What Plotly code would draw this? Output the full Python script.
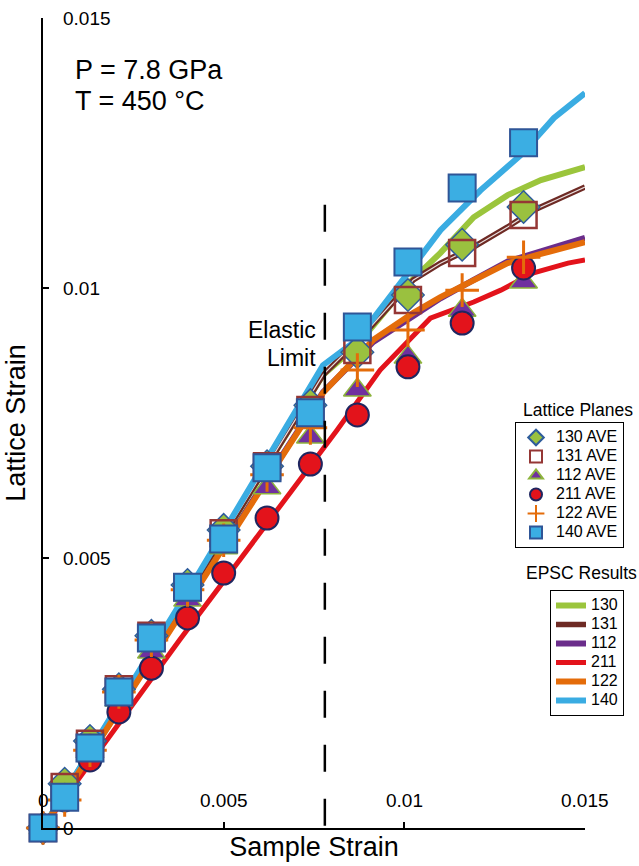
import plotly.graph_objects as go

# ---------------- data ----------------
sample_strain = [0, 0.0006, 0.0013, 0.0021, 0.003, 0.004, 0.005, 0.0062, 0.0074, 0.0087, 0.0101, 0.0116, 0.0133]

ave_130 = [0, 0.00082, 0.00161, 0.00257, 0.00356, 0.0045, 0.00552, 0.0067, 0.00783, 0.00881, 0.00987, 0.0108, 0.0115]
ave_131 = [0, 0.00076, 0.00156, 0.00257, 0.00356, 0.00446, 0.00546, 0.0067, 0.00774, 0.00885, 0.00978, 0.01065, 0.01135]
ave_112 = [0, 0.00061, 0.00141, 0.00237, 0.00326, 0.00422, 0.00519, 0.0063, 0.00724, 0.00811, 0.00872, 0.00959, 0.01011]
ave_211 = [0, 0.00052, 0.00126, 0.00215, 0.00296, 0.00389, 0.00472, 0.00574, 0.00674, 0.00765, 0.00854, 0.00935, 0.01037]
ave_122 = [0, 0.00052, 0.00144, 0.00252, 0.00348, 0.00441, 0.00533, 0.00654, 0.00741, 0.00848, 0.00922, 0.00996, 0.01057]
ave_140 = [0, 0.00057, 0.00148, 0.00252, 0.00352, 0.00446, 0.00535, 0.00667, 0.00769, 0.00928, 0.01048, 0.01185, 0.01269]

epsc_130_x = [0, 0.00433, 0.00775, 0.00869, 0.01008, 0.0110, 0.01192, 0.01286, 0.01378, 0.015]
epsc_130_y = [0, 0.00469, 0.00839, 0.00894, 0.01006, 0.01065, 0.01131, 0.01172, 0.0120, 0.01224]
epsc_131_x = [0, 0.00433, 0.00775, 0.00886, 0.01025, 0.0110, 0.01192, 0.01286, 0.01358, 0.015]
epsc_131_y = [0, 0.00469, 0.00839, 0.00913, 0.01015, 0.01046, 0.01076, 0.01113, 0.01144, 0.01187]
epsc_112_x = [0, 0.00433, 0.00775, 0.00914, 0.01025, 0.0110, 0.01192, 0.01286, 0.01378, 0.015]
epsc_112_y = [0, 0.00454, 0.00807, 0.0090, 0.00948, 0.00981, 0.01015, 0.01049, 0.01068, 0.01093]
epsc_211_x = [0, 0.00378, 0.00683, 0.00814, 0.00933, 0.01072, 0.01192, 0.01267, 0.01358, 0.01453, 0.015]
epsc_211_y = [0, 0.00348, 0.0062, 0.00737, 0.00848, 0.00944, 0.00974, 0.00996, 0.01028, 0.01046, 0.01052]
epsc_122_x = [0, 0.00433, 0.00775, 0.00914, 0.01025, 0.0110, 0.01192, 0.01286, 0.01378, 0.015]
epsc_122_y = [0, 0.0045, 0.00806, 0.00904, 0.00954, 0.00983, 0.01015, 0.01046, 0.01063, 0.01085]
epsc_140_x = [0, 0.00433, 0.00775, 0.00869, 0.00989, 0.0110, 0.01211, 0.01322, 0.01414, 0.015]
epsc_140_y = [0, 0.00474, 0.00857, 0.00904, 0.01009, 0.01107, 0.01181, 0.01246, 0.01315, 0.01361]

elastic_limit = 0.0078
elastic_top = 0.01154

x_ticks = [0, 0.005, 0.01, 0.015]
x_tick_labels = ["0", "0.005", "0.01", "0.015"]
y_ticks = [0, 0.005, 0.01, 0.015]
y_tick_labels = ["0", "0.005", "0.01", "0.015"]

FONT = "Liberation Sans, Arial, sans-serif"
W, H = 639, 866


def leg(t):
    return "<span style='font-size:16px'>" + t + "</span>"


fig = go.Figure()

# ---------------- EPSC lines ----------------
line_specs = [
    ("112", epsc_112_x, epsc_112_y, "#6B2D8B", 6, 3),
    ("130", epsc_130_x, epsc_130_y, "#9BC53C", 6, 1),
    ("131", epsc_131_x, epsc_131_y, "#6E2A24", 5.5, 2),
    ("140", epsc_140_x, epsc_140_y, "#3AACE2", 6, 6),
    ("211", epsc_211_x, epsc_211_y, "#E3131B", 5, 4),
    ("122", epsc_122_x, epsc_122_y, "#E46C0A", 6, 5),
]
for name, xs, ys, col, w, rank in line_specs:
    fig.add_trace(go.Scatter(
        x=xs, y=ys, mode="lines", name=leg(name), legend="legend2", legendrank=rank,
        line=dict(color=col, width=w), cliponaxis=False, hoverinfo="skip"))
    if name == "131":
        fig.add_trace(go.Scatter(
            x=xs, y=ys, mode="lines", showlegend=False,
            line=dict(color="rgba(255,255,255,0.85)", width=1.2), cliponaxis=False, hoverinfo="skip"))

# ---------------- measured markers ----------------
marker_specs = [
    ("130 AVE", ave_130, dict(symbol="diamond", size=25, color="#9AC13F", line=dict(color="#2E5C9C", width=1.5)), 1),
    ("131 AVE", ave_131, dict(symbol="square-open", size=26, color="#953735", line=dict(color="#953735", width=2.5)), 2),
    ("112 AVE", ave_112, dict(symbol="triangle-up", size=24, color="#70309F", line=dict(color="#8DB43C", width=1.5)), 3),
    ("211 AVE", ave_211, dict(symbol="circle", size=23, color="#E3131B", line=dict(color="#1F2660", width=2)), 4),
    ("122 AVE", ave_122, dict(symbol="cross-thin", size=24, color="#E46C0A", line=dict(color="#E46C0A", width=3)), 5),
    ("140 AVE", ave_140, dict(symbol="square", size=27, color="#3BAEE3", line=dict(color="#2F5597", width=2)), 6),
]
for name, ys, mk, rank in marker_specs:
    fig.add_trace(go.Scatter(
        x=sample_strain, y=ys, mode="markers", name=leg(name), legend="legend", legendrank=rank,
        marker=mk, cliponaxis=False, hoverinfo="skip"))

# ---------------- elastic limit line ----------------
fig.add_shape(type="line", x0=elastic_limit, x1=elastic_limit, y0=elastic_top, y1=0,
              xref="x", yref="y", line=dict(color="black", width=2.5, dash="27px,27px"))

annotations = []
for v, t in zip(x_ticks, x_tick_labels):
    annotations.append(dict(x=v, y=0, xref="x", yref="y", text=t, showarrow=False,
                            yshift=28, xanchor="center", yanchor="middle",
                            font=dict(family=FONT, size=19, color="black")))
for v, t in zip(y_ticks, y_tick_labels):
    annotations.append(dict(x=0, y=v, xref="x", yref="y", text=t, showarrow=False,
                            xshift=18, xanchor="left", yanchor="middle",
                            font=dict(family=FONT, size=19, color="black")))


def ptext(text, px, py, anchor, size):
    return dict(x=(px - 43) / 542, y=(828 - py) / 810, xref="paper", yref="paper", text=text,
                showarrow=False, xanchor=anchor, yanchor="middle",
                font=dict(family=FONT, size=size, color="black"))


annotations += [
    ptext("P = 7.8 GPa", 73, 70, "left", 27),
    ptext("T = 450 °C", 73, 101, "left", 27),
    ptext("Elastic", 318, 330, "right", 23),
    ptext("Limit", 318, 358, "right", 23),
    ptext("Lattice Planes", 578, 410, "center", 17.5),
    ptext("EPSC Results", 581, 573, "center", 17.5),
]

fig.update_layout(
    width=W, height=H,
    margin=dict(l=43, r=54, t=18, b=38, autoexpand=False),
    paper_bgcolor="white", plot_bgcolor="white",
    font=dict(family=FONT, color="black"),
    annotations=annotations,
    xaxis=dict(range=[0, 0.015], showgrid=False, zeroline=False, showline=True,
               linecolor="black", linewidth=2, ticks="inside", ticklen=6, tickwidth=2,
               tickcolor="black", tickvals=x_ticks, showticklabels=False,
               title=dict(text="Sample Strain", font=dict(family=FONT, size=27), standoff=8),
               automargin=False),
    yaxis=dict(range=[0, 0.015], showgrid=False, zeroline=False, showline=True,
               linecolor="black", linewidth=2, ticks="inside", ticklen=6, tickwidth=2,
               tickcolor="black", tickvals=y_ticks, showticklabels=False,
               title=dict(text="Lattice Strain", font=dict(family=FONT, size=27), standoff=8),
               automargin=False),
    legend=dict(xref="container", yref="container", x=624 / W, y=1 - 422 / H,
                xanchor="right", yanchor="top", bgcolor="white", bordercolor="black",
                borderwidth=1, font=dict(family=FONT, size=11), itemsizing="constant",
                tracegroupgap=0, traceorder="normal"),
    legend2=dict(xref="container", yref="container", x=624 / W, y=1 - 590 / H,
                 xanchor="right", yanchor="top", bgcolor="white", bordercolor="black",
                 borderwidth=1, font=dict(family=FONT, size=11),
                 tracegroupgap=0, traceorder="normal"),
    showlegend=True,
)

fig.write_html("out.html",
               config={"displayModeBar": False},
               post_script="document.body.style.margin='0';document.body.style.overflow='hidden';")
